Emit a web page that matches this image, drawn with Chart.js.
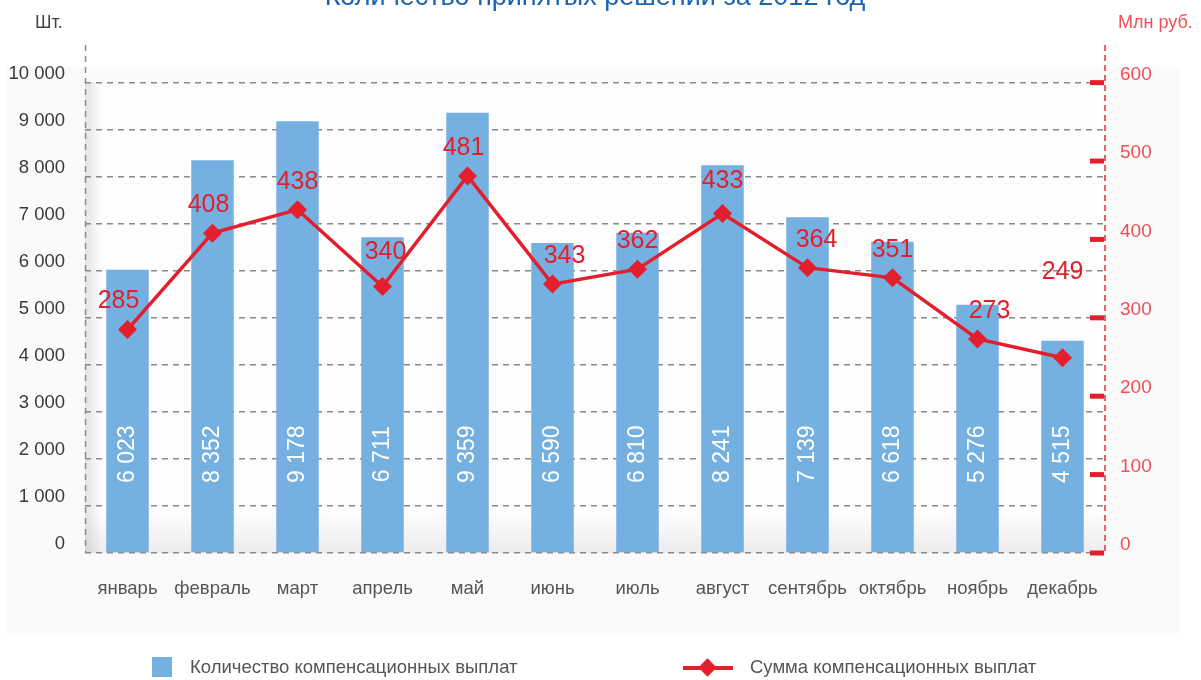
<!DOCTYPE html>
<html lang="ru">
<head>
<meta charset="utf-8">
<script src="https://cdn.jsdelivr.net/npm/chart.js@4.4.1/dist/chart.umd.min.js"></script>
<style>
  html,body{margin:0;padding:0;background:#fff;}
  body{width:1201px;height:680px;position:relative;overflow:hidden;font-family:"Liberation Sans",Arial,sans-serif;}
  #wrap{position:absolute;left:0;top:0;width:1201px;height:680px;}
  .title{position:absolute;left:0;width:1190px;top:-17px;text-align:center;font-size:27px;line-height:27px;color:#1c66b1;}
  .unit{position:absolute;top:12px;font-size:18px;line-height:20px;}
  .legend{position:absolute;top:656px;font-size:18.5px;line-height:22px;color:#555;}
  .sq{position:absolute;left:152px;top:657px;width:20px;height:20px;background:#74b0e0;}
  .ln{position:absolute;left:683px;top:666px;width:50px;height:4px;background:#e41f2d;}
  .dm{position:absolute;left:701px;top:661px;width:13px;height:13px;background:#e41f2d;transform:rotate(45deg);}
</style>
</head>
<body>
<div id="wrap"><canvas id="grafico" width="1201" height="680"></canvas></div>
<div class="title">Количество принятых решений за 2012 год</div>
<div class="unit" style="left:35px;color:#444">Шт.</div>
<div class="unit" style="left:1118px;color:#ef4f58">Млн руб.</div>
<div class="sq"></div>
<div class="legend" style="left:190px">Количество компенсационных выплат</div>
<div class="ln"></div><div class="dm"></div>
<div class="legend" style="left:750px">Сумма компенсационных выплат</div>
<script>
const months = ['январь','февраль','март','апрель','май','июнь','июль','август','сентябрь','октябрь','ноябрь','декабрь'];
const kolvo = [6023,8352,9178,6711,9359,6590,6810,8241,7139,6618,5276,4515];
const summa = [285,408,438,340,481,343,362,433,364,351,273,249];
const leftTicks = [0,1000,2000,3000,4000,5000,6000,7000,8000,9000,10000];
const rightTicks = [0,100,200,300,400,500,600];

// small nudges for the red value labels (px)
const lblShift = [[-9,0],[-4,0],[0,0],[3,-6],[-4,0],[12,0],[0,0],[0,-4],[9,0],[0,0],[12,0],[0,-58]];

const fmt = v => String(v).replace(/\B(?=(\d{3})+(?!\d))/g,' ');

const decor = {
  id:'decor',
  beforeDraw(c){
    const g=c.ctx, a=c.chartArea;
    g.save();
    g.fillStyle='#fafafa';
    g.fillRect(6,67,1174,566);
    g.fillStyle='#fdfdfd';
    g.fillRect(a.left,a.top+37,a.right-a.left,a.bottom-a.top-37);
    let gr=g.createLinearGradient(a.left,0,a.left+16,0);
    gr.addColorStop(0,'rgba(0,0,0,0.10)');gr.addColorStop(1,'rgba(0,0,0,0)');
    g.fillStyle=gr;g.fillRect(a.left,a.top+37,16,a.bottom-a.top-37);
    gr=g.createLinearGradient(0,a.bottom-40,0,a.bottom);
    gr.addColorStop(0,'rgba(0,0,0,0)');gr.addColorStop(1,'rgba(0,0,0,0.07)');
    g.fillStyle=gr;g.fillRect(a.left,a.bottom-40,a.right-a.left,40);
    g.restore();
  },
  afterDatasetsDraw(c){
    const g=c.ctx, y=c.scales.y, y1=c.scales.y1, a=c.chartArea;
    g.save();
    // dashed axis lines
    g.lineWidth=1.5;g.setLineDash([6,5]);g.strokeStyle='#8a8a8a';
    g.beginPath();g.moveTo(a.left+0.5,a.top);g.lineTo(a.left+0.5,a.bottom);g.stroke();
    g.lineWidth=2;g.setLineDash([6,4]);g.strokeStyle='#f0606b';
    g.beginPath();g.moveTo(a.right,a.top);g.lineTo(a.right,a.bottom);g.stroke();
    g.setLineDash([]);
    // red tick marks on the right axis
    g.fillStyle='#e41f2d';
    rightTicks.forEach(t=>{ const py=y1.getPixelForValue(t); g.fillRect(a.right-15,py-2.5,14,5); });
    // bar values
    const bars=c.getDatasetMeta(0).data;
    g.fillStyle='#fff';
    g.font='23px "Liberation Sans", Arial, sans-serif';
    g.textAlign='center';g.textBaseline='middle';
    bars.forEach((b,i)=>{
      g.save();g.translate(b.x,y.getPixelForValue(2100));g.rotate(-Math.PI/2);
      g.fillText(fmt(kolvo[i]),0,0);g.restore();
    });
    // line values
    const pts=c.getDatasetMeta(1).data;
    g.fillStyle='#e41f2d';
    g.font='25px "Liberation Sans", Arial, sans-serif';
    pts.forEach((p,i)=>{
      g.fillText(String(summa[i]),p.x+lblShift[i][0],p.y-28+lblShift[i][1]);
    });
    g.restore();
  }
};

new Chart(grafico,{
  data:{
    labels:months,
    datasets:[
      {type:'bar',label:'Количество компенсационных выплат',data:kolvo,yAxisID:'y',
       backgroundColor:'#74b0e0',barPercentage:0.5,categoryPercentage:1,order:2},
      {type:'line',label:'Сумма компенсационных выплат',data:summa,yAxisID:'y1',
       borderColor:'#e41f2d',borderWidth:3.5,tension:0,
       pointStyle:'rectRot',pointRadius:9.5,pointHoverRadius:9.5,
       pointBackgroundColor:'#e41f2d',pointBorderColor:'#e41f2d',pointBorderWidth:0,order:1}
    ]
  },
  options:{
    responsive:false,animation:false,
    layout:{padding:{top:45,left:0,right:0,bottom:0}},
    plugins:{legend:{display:false},tooltip:{enabled:false}},
    scales:{
      x:{
        grid:{display:false},border:{display:false},
        ticks:{color:'#555',font:{size:18.5,family:'"Liberation Sans", Arial'},padding:17,maxRotation:0,autoSkip:false},
        afterFit(s){s.height=127;}
      },
      y:{
        position:'left',min:0,max:10800,
        afterBuildTicks(s){s.ticks=leftTicks.map(v=>({value:v}));},
        afterFit(s){s.width=85;},
        grid:{color:'#8a8a8a',lineWidth:1.5,drawTicks:false},
        border:{display:false,dash:[6,5]},
        ticks:{color:'#3a3a3a',font:{size:18.5,family:'"Liberation Sans", Arial'},padding:20,labelOffset:-9,callback:v=>fmt(v)}
      },
      y1:{
        position:'right',min:0,max:648,
        afterBuildTicks(s){s.ticks=rightTicks.map(v=>({value:v}));},
        afterFit(s){s.width=96;},
        grid:{display:false,drawTicks:false},
        border:{display:false},
        ticks:{color:'#ef4f58',font:{size:19,family:'"Liberation Sans", Arial'},padding:15,labelOffset:-8}
      }
    }
  },
  plugins:[decor]
});
</script>
</body>
</html>
